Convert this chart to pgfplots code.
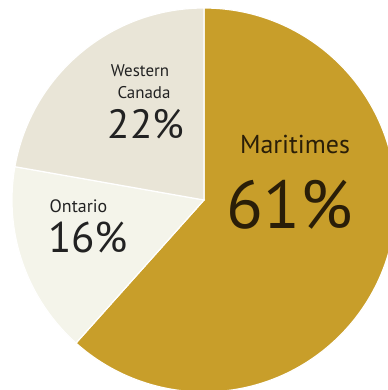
\documentclass[border=0pt]{standalone}
\usepackage{pgfplots}
\usepackage{pgfplotstable}
\pgfplotsset{compat=1.18}
\usepackage{fontspec}
\setmainfont{PT Sans}
\definecolor{gold}{HTML}{C89E2A}
\definecolor{beige}{HTML}{E9E5D7}
\definecolor{cream}{HTML}{F4F4EA}
\definecolor{txt}{HTML}{222222}
\definecolor{txtm}{HTML}{2A1E08}

\pgfplotstableread{
region value
Maritimes 61
Ontario 16
Western 22
}\piedata

\begin{document}
\begin{tikzpicture}
\pgfplotstablegetelem{0}{value}\of\piedata \let\vA\pgfplotsretval
\pgfplotstablegetelem{1}{value}\of\piedata \let\vB\pgfplotsretval
\pgfplotstablegetelem{2}{value}\of\piedata \let\vC\pgfplotsretval
\pgfmathsetmacro\tot{\vA+\vB+\vC}
\pgfmathsetmacro\aA{90-\vA/\tot*360}
\pgfmathsetmacro\aB{\aA-\vB/\tot*360}
\pgfmathsetmacro\aC{\aB-\vC/\tot*360}
\useasboundingbox (0,0) rectangle (388bp,390bp);
\begin{axis}[width=388bp,height=390bp,scale only axis,
  xmin=0,xmax=388,ymin=0,ymax=390,hide axis,clip=true]
\fill[gold,draw=white,line width=1.2bp] (axis cs:204,190) -- ++(90:192bp) arc[start angle=90,end angle=\aA,radius=192bp] -- cycle;
\fill[cream,draw=white,line width=1.2bp] (axis cs:204,190) -- ++(\aA:192bp) arc[start angle=\aA,end angle=\aB,radius=192bp] -- cycle;
\fill[beige,draw=white,line width=1.2bp] (axis cs:204,190) -- ++(\aB:192bp) arc[start angle=\aB,end angle=\aC,radius=192bp] -- cycle;
\node[inner sep=0,text=txt,font=\fontsize{17}{19}\selectfont] at (axis cs:140,319.5) {Western};
\node[inner sep=0,text=txt,font=\fontsize{17}{19}\selectfont] at (axis cs:144,297.5) {Canada};
\node[inner sep=0,text=txt,font=\fontsize{41}{44}\selectfont] at (axis cs:146,266) {22\%};
\node[inner sep=0,text=txt,font=\fontsize{18}{20}\selectfont] at (axis cs:78.5,184) {Ontario};
\node[inner sep=0,text=txt,font=\fontsize{43}{46}\selectfont] at (axis cs:88,153) {16\%};
\node[inner sep=0,text=txtm,font=\fontsize{26}{28}\selectfont] at (axis cs:295,246) {Maritimes};
\node[inner sep=0,text=txtm,font=\fontsize{68}{72}\selectfont] at (axis cs:290,185.5) {61\%};
\end{axis}
\end{tikzpicture}
\end{document}
